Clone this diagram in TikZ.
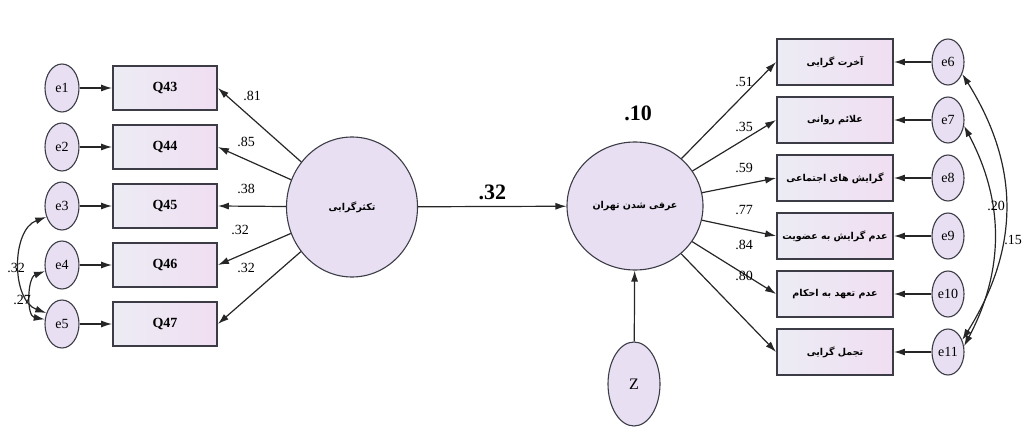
\documentclass[tikz,border=0pt]{standalone}
\usepackage{fontspec}
\setmainfont{Liberation Serif}
\newfontfamily\farsi[Script=Arabic]{DejaVu Sans}
\TeXXeTstate=1
\usetikzlibrary{arrows.meta,shapes.geometric}
\definecolor{linegray}{RGB}{60,60,70}
\definecolor{errfill}{RGB}{232,224,242}
\definecolor{boxleft}{RGB}{236,236,244}
\definecolor{boxright}{RGB}{240,222,242}
\begin{document}
\begin{tikzpicture}[x=1pt,y=-1pt,
    >={Latex[length=11pt,width=7pt]},
    err/.style={ellipse,draw=linegray,line width=1.1pt,fill=errfill,minimum width=34pt,minimum height=48pt,inner sep=0pt,font=\fontsize{14}{14}\selectfont},
    obs/.style={rectangle,draw=linegray,line width=1.8pt,left color=boxleft,right color=boxright,minimum width=104pt,minimum height=44pt,font=\fontsize{14}{14}\selectfont\bfseries},
    lat/.style={ellipse,draw=linegray,line width=1.1pt,fill=errfill,inner sep=0pt},
    fa/.style={font=\farsi\fontsize{9.5}{9.5}\selectfont\bfseries},
    coef/.style={font=\fontsize{14}{14}\selectfont,inner sep=1pt},
    big/.style={font=\fontsize{22}{22}\selectfont\bfseries,inner sep=1pt},
    path/.style={->,line width=1.2pt,draw=black!85},
    cov/.style={<->,line width=1.2pt,draw=black!85}]
    \useasboundingbox (0,0) rectangle (1024,430);
    \foreach \i/\y/\q in {1/88/43,2/147/44,3/206/45,4/265/46,5/324/47}{
        \node[err] (e\i) at (62,\y) {e\i};
        \node[obs] (q\i) at (165,\y) {Q\q};
        \draw[path] (e\i) -- (q\i);
    }
    \node[lat,fa,minimum width=131pt,minimum height=140pt] (takasor) at (352,207) {\beginR تکثرگرایی\endR};
    \foreach \i in {1,...,5} \draw[path] (takasor) -- (q\i.east);
    \foreach \v/\x/\y [count=\k] in {.81/252/96,.85/246/142,.38/246/189,.32/240/230,.32/246/268}
        \node[coef] (bl\k) at (\x,\y) {\v};
    \draw[cov] (e3.215) to[out=200,in=160] (e5.145);
    \draw[cov] (e4.200) to[out=200,in=170] (e5.165);
    \node[coef] (cov1) at (16,268) {.32};
    \node[coef] (cov2) at (22,300) {.27};
    \node[lat,fa,minimum width=136pt,minimum height=128pt] (orfi) at (635,206) {\beginR عرفی شدن تهران\endR};
    \node[big] (r2) at (638,113) {.10};
    \node[lat,minimum width=52pt,minimum height=84pt,font=\fontsize{16}{16}\selectfont] (z) at (634,384) {Z};
    \draw[path] (takasor) -- node[big,above=5pt] (b0) {.32} (orfi);
    \draw[path] (z) -- (orfi);
    \foreach \i/\y/\t in {6/62/{آخرت گرایی},7/120/{علائم روانی},8/178/{گرایش های اجتماعی},9/236/{عدم گرایش به عضویت},10/294/{عدم تعهد به احکام},11/352/{تجمل گرایی}}{
        \node[obs,fa,minimum width=116pt,minimum height=46pt] (r\i) at (835,\y) {\beginR\t\endR};
        \node[err,minimum width=32pt,minimum height=46pt] (e\i) at (948,\y) {e\i};
        \draw[path] (e\i) -- (r\i);
        \draw[path] (orfi) -- (r\i.west);
    }
    \foreach \v/\y [count=\k] in {.51/82,.35/127,.59/168,.77/210,.84/245,.80/276}
        \node[coef] (br\k) at (744,\y) {\v};
    \draw[cov] (e6.320) to[out=-58,in=58,looseness=1.05] (e11.40);
    \draw[cov] (e7.340) to[out=-62,in=62] (e11.20);
    \node[coef,anchor=east] (cov3) at (1023,240) {.15};
    \node[coef] (cov4) at (996,206) {.20};
\end{tikzpicture}
\end{document}
